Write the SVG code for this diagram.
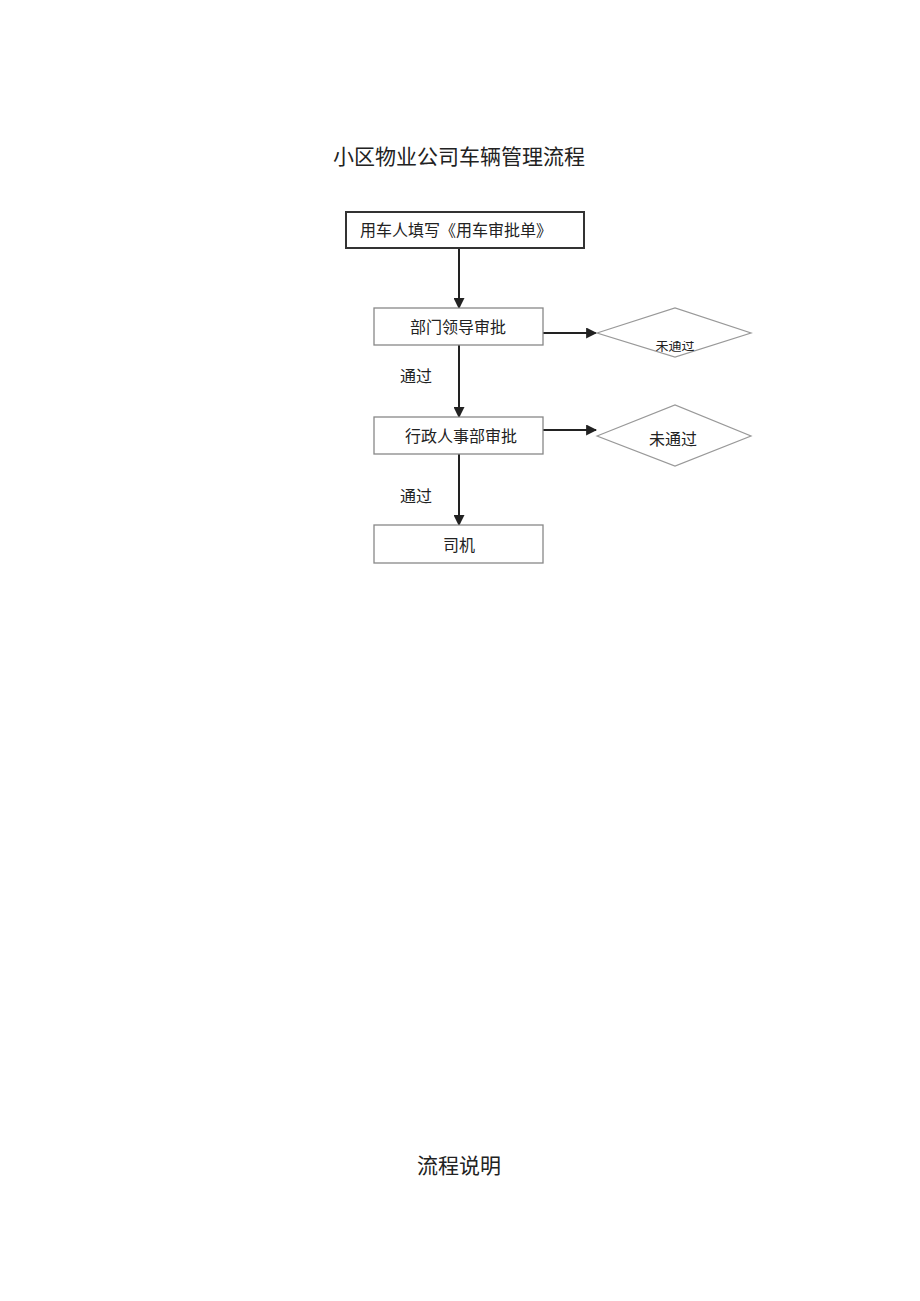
<svg xmlns="http://www.w3.org/2000/svg" width="920" height="1301" viewBox="0 0 920 1301">
<style>
text{font-family:"Liberation Serif","Noto Sans CJK SC",serif;fill:#222;text-anchor:middle;dominant-baseline:central}
.t{font-size:21px}
.n{font-size:16px}
.box{fill:#fff;stroke:#888;stroke-width:1.3}
.dia{fill:#fff;stroke:#999;stroke-width:1.2}
.c{stroke:#222;stroke-width:2;fill:none;marker-end:url(#ah)}
</style>
<defs>
<marker id="ah" viewBox="0 0 10 10" refX="9" refY="5" markerWidth="5.5" markerHeight="5.5" orient="auto" markerUnits="strokeWidth">
<path d="M0,0 L10,5 L0,10 z" fill="#222"/>
</marker>
<clipPath id="cut"><rect x="600" y="341" width="150" height="16"/></clipPath>
</defs>
<rect width="920" height="1301" fill="#fff"/>
<text class="t" x="459" y="157">小区物业公司车辆管理流程</text>
<g id="connectors">
<line class="c" x1="459" y1="248" x2="459" y2="308"/>
<line class="c" x1="543" y1="333" x2="596" y2="333"/>
<line class="c" x1="459" y1="345" x2="459" y2="417"/>
<line class="c" x1="543" y1="430" x2="596" y2="430"/>
<line class="c" x1="459" y1="454" x2="459" y2="525"/>
<text class="n" x="416" y="376">通过</text>
<text class="n" x="416" y="496">通过</text>
</g>
<g id="n1">
<rect x="346" y="212" width="238" height="36" fill="#fff" stroke="#333" stroke-width="2"/>
<text class="n" x="456" y="230">用车人填写《用车审批单》</text>
</g>
<g id="n2">
<rect class="box" x="374" y="308" width="169" height="37"/>
<text class="n" x="458" y="327">部门领导审批</text>
</g>
<g id="d1">
<polygon class="dia" points="597,333 675,308 751,333 675,357"/>
<text x="675" y="345" font-size="13" clip-path="url(#cut)">未通过</text>
</g>
<g id="n3">
<rect class="box" x="374" y="417" width="169" height="37"/>
<text class="n" x="461" y="436">行政人事部审批</text>
</g>
<g id="d2">
<polygon class="dia" points="597,436 675,405 751,436 675,466"/>
<text class="n" x="673" y="439">未通过</text>
</g>
<g id="n4">
<rect class="box" x="374" y="525" width="169" height="38"/>
<text class="n" x="459" y="545">司机</text>
</g>
<text class="t" x="459" y="1166">流程说明</text>
</svg>
